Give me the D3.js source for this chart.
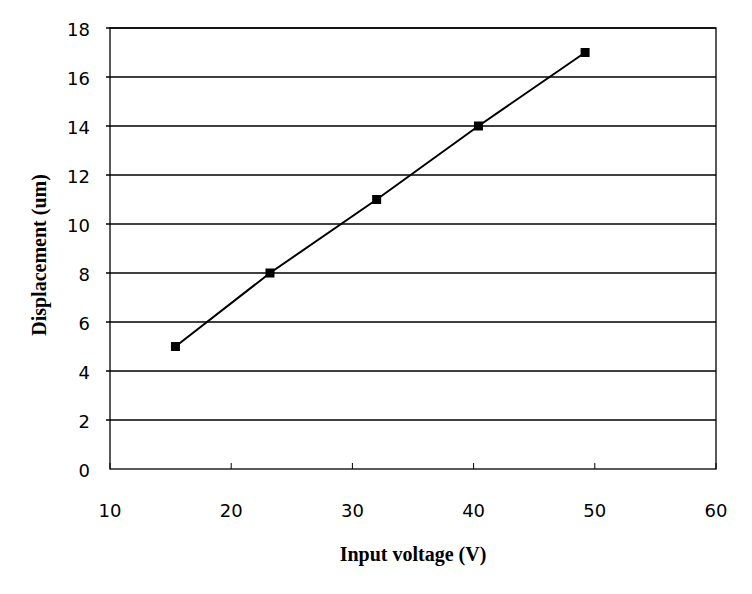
<!DOCTYPE html>
<html><head><meta charset="utf-8">
<script src="https://cdn.jsdelivr.net/npm/d3@7"></script>
<style>body{margin:0;background:#fff}</style>
</head><body>
<svg id="c" width="752" height="594"></svg>
<script>
const voltage = [15.4, 23.2, 32.0, 40.4, 49.2];
const displacement = [5, 8, 11, 14, 17];
const xTicks = [10, 20, 30, 40, 50, 60];
const yTicks = [0, 2, 4, 6, 8, 10, 12, 14, 16, 18];
const xTitle = "Input voltage (V)";
const yTitle = "Displacement (um)";

const svg = d3.select("#c");
const L = 110, R = 716, T = 28, B = 469;
const x = d3.scaleLinear().domain([10, 60]).range([L, R]);
const y = d3.scaleLinear().domain([0, 18]).range([B, T]);

// gridlines
svg.append("g").selectAll("line").data(yTicks.filter(d => d > 0)).join("line")
  .attr("x1", L - 4).attr("x2", R).attr("y1", d => y(d)).attr("y2", d => y(d))
  .attr("stroke", "#000").attr("stroke-width", 1.3);

// plot border
svg.append("rect").attr("x", L).attr("y", T).attr("width", R - L).attr("height", B - T)
  .attr("fill", "none").attr("stroke", "#000").attr("stroke-width", 1.3);

// x axis ticks (inward)
svg.append("g").selectAll("line").data(xTicks).join("line")
  .attr("x1", d => x(d)).attr("x2", d => x(d)).attr("y1", B).attr("y2", B - 6)
  .attr("stroke", "#000").attr("stroke-width", 1);

// y tick labels
svg.append("g").selectAll("text").data(yTicks).join("text")
  .attr("x", 90).attr("y", d => y(d) + 7.5)
  .attr("text-anchor", "end").attr("font-family", "DejaVu Sans").attr("font-size", 18)
  .attr("fill", "#000").text(d => d);

// x tick labels
svg.append("g").selectAll("text").data(xTicks).join("text")
  .attr("x", d => x(d)).attr("y", 517)
  .attr("text-anchor", "middle").attr("font-family", "DejaVu Sans").attr("font-size", 18)
  .attr("fill", "#000").text(d => d);

// line
const pts = voltage.map((v, i) => [v, displacement[i]]);
svg.append("path").datum(pts)
  .attr("d", d3.line().x(d => x(d[0])).y(d => y(d[1])))
  .attr("fill", "none").attr("stroke", "#000").attr("stroke-width", 2);

// markers
svg.append("g").selectAll("rect").data(pts).join("rect")
  .attr("x", d => x(d[0]) - 4.5).attr("y", d => y(d[1]) - 4.5)
  .attr("width", 9).attr("height", 9).attr("fill", "#000");

// axis titles
svg.append("text").attr("x", 413).attr("y", 561).attr("text-anchor", "middle")
  .attr("font-family", "Liberation Serif").attr("font-weight", "bold").attr("font-size", 20)
  .text(xTitle);
svg.append("text").attr("transform", "translate(46,255) rotate(-90)").attr("text-anchor", "middle")
  .attr("font-family", "Liberation Serif").attr("font-weight", "bold").attr("font-size", 20)
  .text(yTitle);
</script>
</body></html>
